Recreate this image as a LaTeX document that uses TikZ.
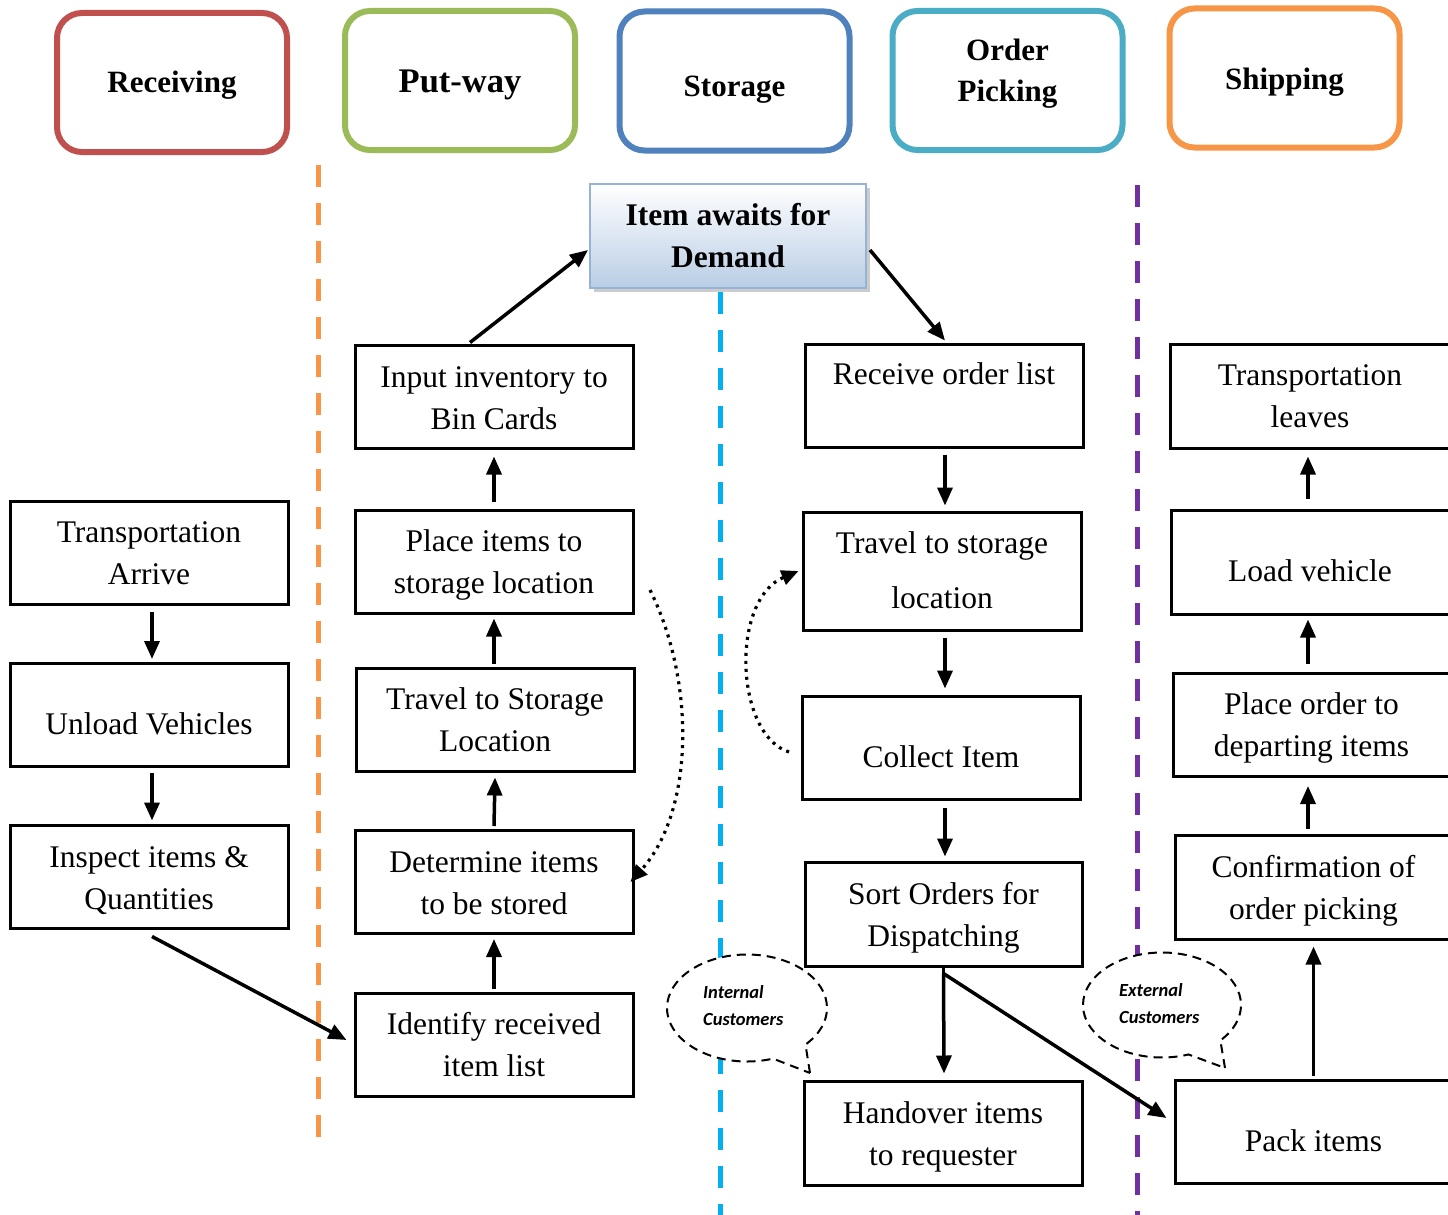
\documentclass[tikz,border=0pt]{standalone}
\usepackage{fontspec}
\setmainfont{Liberation Serif}
\newfontfamily\calfont{Carlito}
\usetikzlibrary{arrows.meta,shapes.callouts,shadows}
\definecolor{cred}{HTML}{C0504D}
\definecolor{cgreen}{HTML}{9BBB59}
\definecolor{cblue}{HTML}{4F81BD}
\definecolor{cteal}{HTML}{4BACC6}
\definecolor{corange}{HTML}{F79646}
\definecolor{csky}{HTML}{00B0F0}
\definecolor{cpurple}{HTML}{7030A0}
\definecolor{cborder}{HTML}{95B3D7}
\definecolor{cgrad}{HTML}{B9CDE5}
\begin{document}
\begin{tikzpicture}[x=1pt,y=-1pt,
  box/.style={draw, line width=3pt, inner sep=0pt, minimum width=278pt, minimum height=103pt},
  txt/.style={inner sep=0pt, align=center, font=\fontsize{31.5}{42}\selectfont},
  hdr/.style={draw=#1, line width=6pt, rounded corners=25pt, minimum width=230pt, minimum height=139pt, inner sep=0pt},
  htxt/.style={inner sep=0pt, align=center, font=\bfseries\fontsize{31}{41}\selectfont},
  arr/.style={line width=3.5pt, -{Triangle[length=18pt,width=15pt]}},
  dotarr/.style={line width=3.2pt, dash pattern=on 3pt off 5pt, -{Triangle[length=17pt,width=15pt]}},
  sep/.style={line width=5pt, dash pattern=on 22pt off 16pt},
  bubble/.style={ellipse callout, draw, fill=white, line width=2pt, dash pattern=on 9pt off 6pt, inner sep=0pt, callout pointer arc=28},
  btxt/.style={inner sep=0pt, align=left, font=\calfont\bfseries\itshape\fontsize{18.5}{27}\selectfont}
]
\useasboundingbox (0,0) rectangle (1448,1215);
\clip (0,0) rectangle (1448,1215);

% headers
\node[hdr=cred] (hrec) at (172,82.5) {};
\node[htxt] (trec) at (172,85) {Receiving};
\node[hdr=cgreen] (hput) at (460,80.5) {};
\node[htxt, font=\bfseries\fontsize{34.5}{41}\selectfont] (tput) at (460,85) {Put-way};
\node[hdr=cblue] (hsto) at (734.5,81) {};
\node[htxt] (tsto) at (734.5,90) {Storage};
\node[hdr=cteal] (hord) at (1007.5,80.5) {};
\node[htxt] (tord) at (1007.5,73.5) {Order\\Picking};
\node[hdr=corange] (hshp) at (1284.5,78) {};
\node[htxt] (tshp) at (1284.5,82) {Shipping};

% separators
\coordinate (s1a) at (318,165); \coordinate (s1b) at (318,1145);
\coordinate (s2a) at (720,292); \coordinate (s2b) at (720,1215);
\coordinate (s3a) at (1137,185); \coordinate (s3b) at (1137,1215);
\draw[sep, draw=corange] (s1a) -- (s1b);
\draw[sep, draw=csky] (s2a) -- (s2b);
\draw[sep, draw=cpurple] (s3a) -- (s3b);

% item awaits
\node[draw=cborder, line width=2pt, top color=white, bottom color=cgrad,
      drop shadow={shadow xshift=4pt, shadow yshift=-4pt, fill=gray!80},
      minimum width=276pt, minimum height=104pt, inner sep=0pt, align=center,
      font=\bfseries\fontsize{31.5}{42}\selectfont] (ia) at (728,236) {Item awaits for\\Demand};

% receiving column
\node[box] (ta) at (149,552.5) {};
\node[txt] (tat) at (149,553.5) {Transportation\\Arrive};
\node[box] (uv) at (149,715) {};
\node[txt] (uvt) at (149,724) {Unload Vehicles};
\node[box] (iq) at (149,876.5) {};
\node[txt] (iqt) at (149,880.5) {Inspect items \&\\Quantities};

% put-way column
\node[box] (ii) at (494,396.5) {};
\node[txt] (iit) at (494,398.5) {Input inventory to\\Bin Cards};
\node[box] (pi) at (494,561.5) {};
\node[txt] (pit) at (494,564.5) {Place items to\\storage location};
\node[box] (ts) at (495,719.5) {};
\node[txt] (tst) at (495,719.5) {Travel to Storage\\Location};
\node[box] (di) at (494,882) {};
\node[txt] (dit) at (494,883.5) {Determine items\\to be stored};
\node[box] (ir) at (494,1044.5) {};
\node[txt] (irt) at (494,1044.5) {Identify received\\item list};

% order picking column
\node[box] (ro) at (944,395.5) {};
\node[txt] (rot) at (944,374) {Receive order list};
\node[box, minimum height=118pt] (tsl) at (942,571) {};
\node[txt, font=\fontsize{31.5}{55}\selectfont] (tslt) at (942,570) {Travel to storage\\location};
\node[box] (ci) at (941,747.5) {};
\node[txt] (cit) at (941,757) {Collect Item};
\node[box, minimum width=277pt, minimum height=104pt] (so) at (943.5,914) {};
\node[txt] (sot) at (943.5,918) {Sort Orders for\\Dispatching};
\node[box, minimum height=104pt] (hi) at (943,1133) {};
\node[txt] (hit) at (943,1137) {Handover items\\to requester};

% shipping column
\node[box, minimum width=282pt, minimum height=104pt] (tl) at (1311,396) {};
\node[txt] (tlt) at (1310,396.5) {Transportation\\leaves};
\node[box, minimum width=281pt, minimum height=104pt] (lv) at (1311.5,562) {};
\node[txt] (lvt) at (1310,571) {Load vehicle};
\node[box, minimum width=279pt] (po) at (1312.5,724.5) {};
\node[txt] (pot) at (1311.5,727.5) {Place order to\\departing items};
\node[box, minimum width=277pt, minimum height=104pt] (co) at (1313.5,887) {};
\node[txt] (cot) at (1313.5,891) {Confirmation of\\order picking};
\node[box, minimum width=277pt] (pk) at (1313.5,1131.5) {};
\node[txt] (pkt) at (1313.5,1141) {Pack items};

% arrows
\draw[arr] ([xshift=3pt,yshift=-6pt]ta.south) -- ([xshift=3pt,yshift=3pt]uv.north);
\draw[arr] ([xshift=3pt,yshift=-5pt]uv.south) -- ([xshift=3pt,yshift=3pt]iq.north);
\draw[arr] ([xshift=3pt,yshift=-7pt]iq.south) -- ([xshift=-7pt,yshift=4.5pt]ir.west);
\draw[arr] ([yshift=3pt]ir.north) -- ([yshift=-4pt]di.south);
\draw[arr] ([yshift=3pt]di.north) -- ([yshift=-5pt]ts.south);
\draw[arr] ([xshift=-1pt,yshift=3pt]ts.north) -- ([yshift=-4pt]pi.south);
\draw[arr] ([yshift=7pt]pi.north) -- ([yshift=-7pt]ii.south);
\draw[arr] ([xshift=-24pt,yshift=1pt]ii.north) -- ([xshift=-1pt,yshift=-14pt]ia.west);
\draw[arr] ([xshift=3pt,yshift=-14pt]ia.east) -- ([xshift=1pt,yshift=2pt]ro.north);
\draw[arr] ([xshift=1pt,yshift=-6pt]ro.south) -- ([xshift=3pt,yshift=5pt]tsl.north);
\draw[arr] ([xshift=3pt,yshift=-6pt]tsl.south) -- ([xshift=4pt,yshift=6pt]ci.north);
\draw[arr] ([xshift=4pt,yshift=-7pt]ci.south) -- ([xshift=1.5pt,yshift=4pt]so.north);
\coordinate (sob) at ([yshift=-6pt]so.south);
\draw[line width=3.5pt] (so.south) -- (sob);
\draw[arr] (sob) -- ([xshift=1pt,yshift=6pt]hi.north);
\draw[arr] (sob) -- ([xshift=-7pt,yshift=13.5pt]pk.west);
\draw[arr] ([yshift=3pt]pk.north) -- ([yshift=-6pt]co.south);
\draw[arr] ([xshift=-5.5pt,yshift=5pt]co.north) -- ([xshift=-4.5pt,yshift=-8.5pt]po.south);
\draw[arr] ([xshift=-4.5pt,yshift=7.5pt]po.north) -- ([xshift=-3.5pt,yshift=-4pt]lv.south);
\draw[arr] ([xshift=-3.5pt,yshift=10pt]lv.north) -- ([xshift=-3pt,yshift=-7pt]tl.south);

% dotted curves
\coordinate (d1) at (650,590);
\draw[dotarr] (d1) .. controls (695,680) and (695,810) .. ([xshift=-4pt]di.east);
\coordinate (d2) at (789,752);
\draw[dotarr] (d2) .. controls (735,735) and (730,600) .. ([xshift=-3pt]tsl.west);

% callouts
\node[bubble, minimum width=160pt, minimum height=107pt, callout absolute pointer={(810,1073)}] (ic) at (747,1008) {};
\node[btxt, anchor=west] (ict) at (703,1005.5) {Internal\\Customers};
\node[bubble, minimum width=158pt, minimum height=105pt, callout absolute pointer={(1225,1068)}] (ec) at (1162,1005) {};
\node[btxt, anchor=west] (ect) at (1119,1003.5) {External\\Customers};
\end{tikzpicture}
\end{document}
